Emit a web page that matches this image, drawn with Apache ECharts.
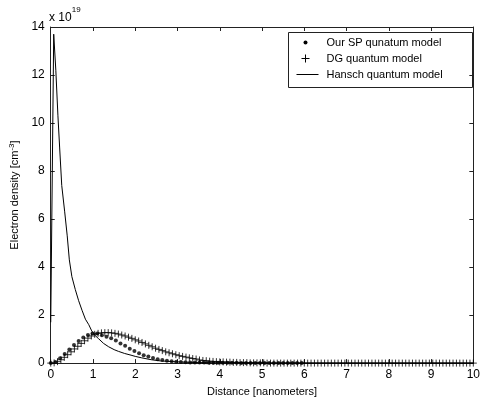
<!DOCTYPE html>
<html>
<head>
<meta charset="utf-8">
<script src="https://cdn.jsdelivr.net/npm/echarts@6/dist/echarts.min.js"></script>
<style>
  html, body { margin: 0; padding: 0; background: #fff; }
  #main { width: 483px; height: 402px; }
</style>
</head>
<body>
<div id="main"></div>
<script>
// Our SP quantum model (dots), x in nm, y in 1e19 cm^-3
const spX = [0, 0.11, 0.22, 0.33, 0.44, 0.55, 0.66, 0.77, 0.88, 0.99,
  1.1, 1.21, 1.32, 1.43, 1.54, 1.65, 1.76, 1.87, 1.98, 2.09,
  2.2, 2.31, 2.42, 2.53, 2.64, 2.75, 2.86, 2.97, 3.08, 3.19,
  3.3, 3.41, 3.52, 3.63, 3.74, 3.85, 3.96, 4.07, 4.18, 4.29,
  4.4, 4.51, 4.62, 4.73, 4.84, 4.95, 5.06, 5.17, 5.28, 5.39,
  5.5, 5.61, 5.72, 5.83, 5.94]
const spY = [0, 0.05, 0.2, 0.38, 0.57, 0.75, 0.92, 1.07, 1.17, 1.23,
  1.23, 1.16, 1.1, 1.03, 0.94, 0.82, 0.72, 0.6, 0.5, 0.41,
  0.33, 0.27, 0.21, 0.16, 0.13, 0.1, 0.08, 0.06, 0.05, 0.04,
  0.03, 0.03, 0.02, 0.02, 0.01, 0.01, 0.01, 0.01, 0.01, 0.01,
  0.01, 0, 0, 0, 0, 0, 0, 0, 0, 0,
  0, 0, 0, 0, 0]

// DG quantum model (pluses)
const dgX = [0, 0.08, 0.16, 0.24, 0.32, 0.4, 0.48, 0.56, 0.64, 0.72,
  0.8, 0.88, 0.96, 1.04, 1.12, 1.2, 1.28, 1.36, 1.44, 1.52,
  1.6, 1.68, 1.76, 1.84, 1.92, 2, 2.08, 2.16, 2.24, 2.32,
  2.4, 2.48, 2.56, 2.64, 2.72, 2.8, 2.88, 2.96, 3.04, 3.12,
  3.2, 3.28, 3.36, 3.44, 3.52, 3.6, 3.68, 3.76, 3.84, 3.92,
  4, 4.08, 4.16, 4.24, 4.32, 4.4, 4.48, 4.56, 4.64, 4.72,
  4.8, 4.88, 4.96, 5.04, 5.12, 5.2, 5.28, 5.36, 5.44, 5.52,
  5.6, 5.68, 5.76, 5.84, 5.92, 6, 6.08, 6.16, 6.24, 6.32,
  6.4, 6.48, 6.56, 6.64, 6.72, 6.8, 6.88, 6.96, 7.04, 7.12,
  7.2, 7.28, 7.36, 7.44, 7.52, 7.6, 7.68, 7.76, 7.84, 7.92,
  8, 8.08, 8.16, 8.24, 8.32, 8.4, 8.48, 8.56, 8.64, 8.72,
  8.8, 8.88, 8.96, 9.04, 9.12, 9.2, 9.28, 9.36, 9.44, 9.52,
  9.6, 9.68, 9.76, 9.84, 9.92, 10]
const dgY = [0, 0.01, 0.06, 0.14, 0.24, 0.35, 0.47, 0.59, 0.7, 0.82,
  0.93, 1.04, 1.13, 1.2, 1.24, 1.26, 1.27, 1.27, 1.26, 1.24,
  1.21, 1.17, 1.13, 1.08, 1.03, 0.97, 0.92, 0.86, 0.8, 0.74,
  0.68, 0.62, 0.57, 0.52, 0.47, 0.43, 0.39, 0.35, 0.31, 0.28,
  0.25, 0.22, 0.19, 0.17, 0.13, 0.11, 0.1, 0.08, 0.07, 0.06,
  0.05, 0.05, 0.04, 0.04, 0.03, 0.03, 0.02, 0.02, 0.02, 0.01,
  0.01, 0.01, 0.01, 0.01, 0, 0, 0, 0, 0, 0,
  0, 0, 0, 0, 0, 0, 0, 0, 0, 0,
  0, 0, 0, 0, 0, 0, 0, 0, 0, 0,
  0, 0, 0, 0, 0, 0, 0, 0, 0, 0,
  0, 0, 0, 0, 0, 0, 0, 0, 0, 0,
  0, 0, 0, 0, 0, 0, 0, 0, 0, 0,
  0, 0, 0, 0, 0, 0]

// Hansch quantum model (solid line)
const hanschX = [0, 0.07, 0.12, 0.17, 0.21, 0.26, 0.33, 0.39, 0.44, 0.5,
  0.58, 0.66, 0.74, 0.82, 0.9, 0.97, 1.05, 1.13, 1.25, 1.37,
  1.5, 1.6, 1.75, 1.9, 2, 2.15, 2.38, 2.6, 2.8, 3,
  3.5, 4, 5, 10]
const hanschY = [1.7, 13.7, 12.2, 10.3, 9.0, 7.4, 6.3, 5.3, 4.3, 3.6,
  3.07, 2.6, 2.2, 1.83, 1.6, 1.34, 1.15, 1.02, 0.82, 0.68,
  0.56, 0.49, 0.4, 0.33, 0.28, 0.22, 0.14, 0.09, 0.07, 0.05,
  0.02, 0.01, 0, 0]

const legendNames = ['Our SP qunatum model', 'DG quantum model', 'Hansch quantum model']

const pairs = (xs, ys) => xs.map((x, i) => [x, ys[i]])

let chart = echarts.init(document.getElementById('main'), null, { renderer: 'canvas' })
const font = 'Liberation Sans, Arial, Helvetica, sans-serif'
const axisColor = '#222'

let baseAxis = {
  type: 'value',
  axisLine: { show: true, onZero: false, lineStyle: { color: axisColor, width: 1 } },
  axisTick: { show: true, inside: true, length: 4, lineStyle: { color: axisColor } },
  splitLine: { show: false },
  axisLabel: { color: '#000', fontSize: 12, fontFamily: font, margin: 6 }
}

let option = {
  animation: false,
  backgroundColor: '#fff',
  textStyle: { fontFamily: font },
  grid: { left: 48, right: 9, top: 27, bottom: 38 },
  xAxis: [
    Object.assign({}, baseAxis, {
      position: 'bottom', min: 0, max: 10, interval: 1,
      name: 'Distance [nanometers]', nameLocation: 'middle', nameGap: 21,
      nameTextStyle: { color: '#000', fontSize: 11, fontFamily: font }
    }),
    Object.assign({}, baseAxis, {
      position: 'top', min: 0, max: 10, interval: 1,
      axisLabel: { show: false }
    })
  ],
  yAxis: [
    Object.assign({}, baseAxis, {
      position: 'left', min: 0, max: 14, interval: 2,
      name: '{n|Electron density [cm}{s|-3}{n|]}', nameLocation: 'middle', nameGap: 22, nameRotate: 90,
      nameTextStyle: {
        color: '#000',
        rich: {
          n: { fontSize: 11, fontFamily: font, color: '#000', lineHeight: 14 },
          s: { fontSize: 8, fontFamily: font, color: '#000', verticalAlign: 'top', lineHeight: 14 }
        }
      }
    }),
    Object.assign({}, baseAxis, {
      position: 'right', min: 0, max: 14, interval: 2,
      axisLabel: { show: false }
    })
  ],
  series: [
    {
      name: legendNames[2],
      type: 'line',
      data: pairs(hanschX, hanschY),
      showSymbol: false,
      lineStyle: { color: '#000', width: 1 },
      z: 2
    },
    {
      name: legendNames[1],
      type: 'scatter',
      data: pairs(dgX, dgY),
      symbol: 'path://M4,0 L4,8 M0,4 L8,4',
      symbolSize: 7,
      itemStyle: { color: 'rgba(0,0,0,0)', borderColor: '#000', borderWidth: 1 },
      z: 3
    },
    {
      name: legendNames[0],
      type: 'scatter',
      data: pairs(spX, spY),
      symbol: 'circle',
      symbolSize: 4,
      itemStyle: { color: '#000' },
      z: 4
    }
  ],
  graphic: [
    {
      type: 'text', left: 49, top: 6,
      style: {
        text: '{n|x 10}{s|19}',
        rich: {
          n: { fontSize: 12, fontFamily: font, fill: '#000', lineHeight: 18, verticalAlign: 'bottom' },
          s: { fontSize: 8, fontFamily: font, fill: '#000', lineHeight: 18, verticalAlign: 'top' }
        }
      }
    },
    {
      type: 'group', left: 288, top: 32,
      children: [
        { type: 'rect', shape: { x: 0, y: 0, width: 184, height: 55 },
          style: { fill: '#fff', stroke: axisColor, lineWidth: 1 } },
        { type: 'circle', shape: { cx: 17, cy: 10, r: 2 }, style: { fill: '#000' } },
        { type: 'line', shape: { x1: 13, y1: 26, x2: 21, y2: 26 }, style: { stroke: '#000', lineWidth: 1 } },
        { type: 'line', shape: { x1: 17, y1: 22, x2: 17, y2: 30 }, style: { stroke: '#000', lineWidth: 1 } },
        { type: 'line', shape: { x1: 8, y1: 42, x2: 30, y2: 42 }, style: { stroke: '#000', lineWidth: 1 } },
        { type: 'text', x: 38, y: 10, style: { text: legendNames[0], fontSize: 11, fontFamily: font, fill: '#000', verticalAlign: 'middle' } },
        { type: 'text', x: 38, y: 26, style: { text: legendNames[1], fontSize: 11, fontFamily: font, fill: '#000', verticalAlign: 'middle' } },
        { type: 'text', x: 38, y: 42, style: { text: legendNames[2], fontSize: 11, fontFamily: font, fill: '#000', verticalAlign: 'middle' } }
      ]
    }
  ]
}

chart.setOption(option)
</script>
</body>
</html>
